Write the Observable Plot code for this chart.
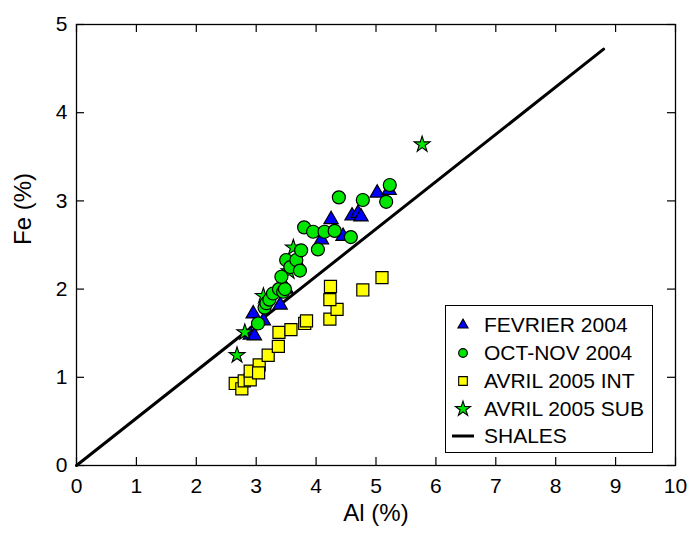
<!DOCTYPE html>
<html><head><meta charset="utf-8">
<script src="https://cdn.jsdelivr.net/npm/d3@7"></script>
<script src="https://cdn.jsdelivr.net/npm/@observablehq/plot@0.6"></script>
<style>
body{margin:0;background:#fff;}
#wrap{position:relative;width:689px;height:534px;font-family:"Liberation Sans",Arial,sans-serif;}
#legend{position:absolute;left:445px;top:305px;width:206px;height:146px;border:1.5px solid #000;background:#fff;}
</style></head><body><div id="wrap"></div>
<script>
// FEVRIER 2004 (triangles)
const fevAl = [2.90, 2.97, 2.95, 3.12, 3.40, 3.50, 3.70, 4.09, 4.25, 4.45, 4.60, 4.70, 4.75, 5.02, 5.22];
const fevFe = [1.48, 1.47, 1.72, 1.64, 1.82, 2.00, 2.28, 2.56, 2.79, 2.60, 2.83, 2.86, 2.82, 3.09, 3.12];
// OCT-NOV 2004 (circles)
const octAl = [3.03, 3.14, 3.17, 3.22, 3.28, 3.38, 3.45, 3.48, 3.42, 3.50, 3.57, 3.67, 3.73, 3.75, 3.80, 3.95, 4.03, 4.14, 4.31, 4.38, 4.58, 4.78, 5.17, 5.23];
const octFe = [1.61, 1.79, 1.84, 1.88, 1.95, 2.00, 1.97, 2.00, 2.14, 2.33, 2.25, 2.33, 2.21, 2.44, 2.70, 2.65, 2.45, 2.65, 2.66, 3.04, 2.59, 3.01, 2.99, 3.18];
// AVRIL 2005 INT (squares)
const intAl = [2.65, 2.76, 2.80, 2.90, 2.90, 3.05, 3.04, 3.20, 3.37, 3.38, 3.58, 3.81, 3.84, 4.23, 4.35, 4.23, 4.24, 4.78, 5.10];
const intFe = [0.93, 0.87, 0.96, 0.97, 1.07, 1.14, 1.05, 1.25, 1.35, 1.51, 1.54, 1.61, 1.64, 1.66, 1.77, 1.88, 2.03, 1.99, 2.13];
// AVRIL 2005 SUB (stars)
const subAl = [2.68, 2.81, 3.12, 3.55, 3.62, 5.77];
const subFe = [1.25, 1.51, 1.92, 2.20, 2.47, 3.64];
// SHALES reference line
const shalesAl = [0, 8.8];
const shalesFe = [0, 4.72];
const xTicks = [0,1,2,3,4,5,6,7,8,9,10];
const yTicks = [0,1,2,3,4,5];
const seriesNames = ["FEVRIER 2004", "OCT-NOV 2004", "AVRIL 2005 INT", "AVRIL 2005 SUB", "SHALES"];

const toRows = (a, f) => a.map((v, i) => ({al: v, fe: f[i]}));
const W = 689, H = 534, mt = 24, mr = 14, mb = 69, ml = 76;
const pw = W - ml - mr, ph = H - mt - mb;
const font = '"Liberation Sans", Arial, sans-serif';

const chart = Plot.plot({
  width: W, height: H,
  marginTop: mt, marginRight: mr, marginBottom: mb, marginLeft: ml,
  style: {fontFamily: font, fontSize: "21px", background: "#fff", color: "#000"},
  x: {domain: [0, 10]},
  y: {domain: [0, 5]},
  marks: [
    Plot.axisX({ticks: xTicks, tickSize: 0, tickPadding: 13, label: null, fontSize: 21, tickFormat: d3.format("d")}),
    Plot.axisY({ticks: yTicks, tickSize: 0, tickPadding: 9, label: null, fontSize: 21, tickFormat: d3.format("d")}),
    Plot.tickX(xTicks, {x: d => d, stroke: "#000", strokeWidth: 1.2, insetTop: ph - 8}),
    Plot.tickX(xTicks, {x: d => d, stroke: "#000", strokeWidth: 1.2, insetBottom: ph - 8}),
    Plot.tickY(yTicks, {y: d => d, stroke: "#000", strokeWidth: 1.2, insetRight: pw - 8}),
    Plot.tickY(yTicks, {y: d => d, stroke: "#000", strokeWidth: 1.2, insetLeft: pw - 8}),
    Plot.frame({stroke: "#000", strokeWidth: 1.3}),
    Plot.line(toRows(shalesAl, shalesFe), {x: "al", y: "fe", stroke: "#000", strokeWidth: 3}),
    Plot.dot(toRows(fevAl, fevFe), {x: "al", y: "fe", symbol: "triangle", r: 5.3, fill: "#0000ff", stroke: "#000", strokeWidth: 1.2}),
    Plot.dot(toRows(subAl, subFe), {x: "al", y: "fe", symbol: "star", r: 5, fill: "#00e600", stroke: "#000", strokeWidth: 1.1}),
    Plot.dot(toRows(octAl, octFe), {x: "al", y: "fe", symbol: "circle", r: 6.5, fill: "#00e600", stroke: "#000", strokeWidth: 1.2}),
    Plot.dot(toRows(intAl, intFe), {x: "al", y: "fe", symbol: "square", r: 6.8, fill: "#ffff00", stroke: "#000", strokeWidth: 1.2}),
    Plot.text(["Al (%)"], {frameAnchor: "bottom", dy: 55, fontSize: 24, fill: "#000"}),
    Plot.text(["Fe (%)"], {frameAnchor: "left", dx: -53, rotate: -90, fontSize: 24, fill: "#000"})
  ]
});
const wrap = document.getElementById("wrap");
wrap.appendChild(chart);

// Legend
const lg = d3.select(wrap).append("div").attr("id", "legend");
const svg = lg.append("svg").attr("width", 206).attr("height", 146);
const rowsY = [19, 47, 75, 103, 130];
const legendSym = [
  {t: d3.symbolTriangle, size: 45, fill: "#0000ff"},
  {t: d3.symbolCircle, size: 60, fill: "#00e600"},
  {t: d3.symbolSquare, size: 75, fill: "#ffff00"},
  {t: d3.symbolStar, size: 70, fill: "#00e600"},
  null
];
seriesNames.forEach((name, i) => {
  const g = svg.append("g").attr("transform", `translate(17,${rowsY[i]})`);
  const s = legendSym[i];
  if (s) {
    g.append("path").attr("d", d3.symbol(s.t, s.size)()).attr("fill", s.fill).attr("stroke", "#000").attr("stroke-width", 1.1);
  } else {
    g.append("line").attr("x1", -11).attr("x2", 11).attr("stroke", "#000").attr("stroke-width", 3);
  }
  svg.append("text").attr("x", 38).attr("y", rowsY[i]).attr("dy", "0.35em")
    .attr("font-family", font).attr("font-size", 21).attr("fill", "#000").text(name);
});
</script></body></html>
